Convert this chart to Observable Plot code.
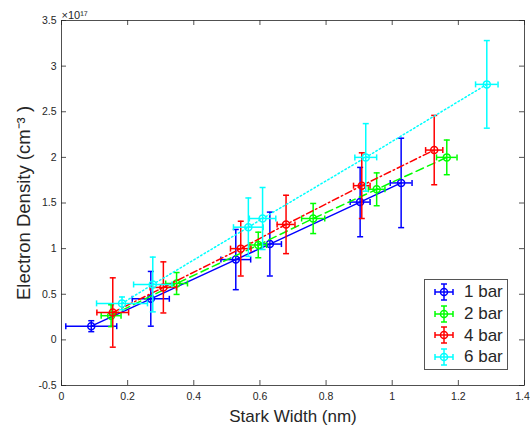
<!DOCTYPE html>
<html><head><meta charset="utf-8">
<script src="https://cdn.jsdelivr.net/npm/d3@7"></script>
<script src="https://cdn.jsdelivr.net/npm/@observablehq/plot@0.6"></script>
<style>
body{margin:0;background:#fff;}
#wrap{position:relative;width:530px;height:427px;font-family:"Liberation Sans",Arial,Helvetica,sans-serif;color:#262626;}
#legend{position:absolute;left:424px;top:279px;width:84px;height:91px;border:1px solid #555;background:#fff;box-sizing:border-box;padding-top:1px;}
.row{display:flex;align-items:center;height:21.7px;}
.row svg{margin-left:8px;}
.row span{margin-left:9px;font-size:17px;line-height:1;}
</style></head><body><div id="wrap"></div><script>
// ---- data ----
const seriesNames = ["1 bar", "2 bar", "4 bar", "6 bar"];
const seriesColors = ["#0000ff", "#00ff00", "#ff0000", "#00ffff"];
const seriesDash = [null, "8,4.5", "7,3,1.5,3", "1.5,2.5"];

const starkWidth1 = [0.09, 0.27, 0.527, 0.63, 0.903, 1.027];
const density1    = [0.15, 0.45, 0.88, 1.05, 1.51, 1.72];
const widthErr1   = [0.077, 0.056, 0.045, 0.035, 0.03, 0.033];
const densityErr1 = [0.06, 0.3, 0.33, 0.35, 0.38, 0.49];

const starkWidth2 = [0.15, 0.348, 0.595, 0.761, 0.953, 1.165];
const density2    = [0.265, 0.618, 1.04, 1.33, 1.65, 2.0];
const widthErr2   = [0.03, 0.033, 0.025, 0.035, 0.025, 0.031];
const densityErr2 = [0.12, 0.12, 0.14, 0.165, 0.18, 0.19];

const starkWidth3 = [0.155, 0.308, 0.542, 0.679, 0.908, 1.127];
const density3    = [0.30, 0.575, 1.0, 1.265, 1.69, 2.08];
const widthErr3   = [0.048, 0.04, 0.031, 0.027, 0.025, 0.026];
const densityErr3 = [0.38, 0.28, 0.3, 0.32, 0.36, 0.38];

const starkWidth4 = [0.183, 0.276, 0.565, 0.608, 0.92, 1.286];
const density4    = [0.40, 0.607, 1.235, 1.33, 2.0, 2.8];
const widthErr4   = [0.077, 0.058, 0.045, 0.04, 0.033, 0.034];
const densityErr4 = [0.07, 0.3, 0.32, 0.34, 0.37, 0.48];

const xTicks = [0, 0.2, 0.4, 0.6, 0.8, 1, 1.2, 1.4];
const yTicks = [-0.5, 0, 0.5, 1, 1.5, 2, 2.5, 3, 3.5];
const xLabel = "Stark Width (nm)";
const yLabel = "Electron Density (cm⁻³ )";
const yExponent = "×10¹⁷";

// ---- build table ----
const xs = [starkWidth1, starkWidth2, starkWidth3, starkWidth4];
const ys = [density1, density2, density3, density4];
const xes = [widthErr1, widthErr2, widthErr3, widthErr4];
const yes = [densityErr1, densityErr2, densityErr3, densityErr4];

const W = 530, H = 427, mL = 61, mR = 6, mT = 20, mB = 42;
const pw = W - mL - mR, ph = H - mT - mB;
const ink = "#262626";

const hCap = {draw(ctx, size) { const r = Math.sqrt(size / Math.PI); ctx.moveTo(-r, 0); ctx.lineTo(r, 0); }};
const vCap = {draw(ctx, size) { const r = Math.sqrt(size / Math.PI); ctx.moveTo(0, -r); ctx.lineTo(0, r); }};

const marks = [];
seriesNames.forEach((name, i) => {
  const rows = xs[i].map((x, j) => ({x, y: ys[i][j], xe: xes[i][j], ye: yes[i][j]}));
  const c = seriesColors[i];
  const sw = 1.5;
  marks.push(
    Plot.ruleX(rows, {x: "x", y1: d => d.y - d.ye, y2: d => d.y + d.ye, stroke: c, strokeWidth: sw}),
    Plot.ruleY(rows, {y: "y", x1: d => d.x - d.xe, x2: d => d.x + d.xe, stroke: c, strokeWidth: sw}),
    Plot.dot(rows, {x: "x", y: d => d.y + d.ye, symbol: hCap, r: 3, stroke: c, fill: "none", strokeWidth: sw}),
    Plot.dot(rows, {x: "x", y: d => d.y - d.ye, symbol: hCap, r: 3, stroke: c, fill: "none", strokeWidth: sw}),
    Plot.dot(rows, {x: d => d.x + d.xe, y: "y", symbol: vCap, r: 3, stroke: c, fill: "none", strokeWidth: sw}),
    Plot.dot(rows, {x: d => d.x - d.xe, y: "y", symbol: vCap, r: 3, stroke: c, fill: "none", strokeWidth: sw}),
    Plot.dot(rows, {x: "x", y: "y", r: 3.5, stroke: c, fill: "none", strokeWidth: sw}),
    Plot.line(rows, {x: "x", y: "y", stroke: c, strokeWidth: sw, strokeDasharray: seriesDash[i]})
  );
});

const lastX = xTicks[xTicks.length - 1];
const chart = Plot.plot({
  width: W, height: H,
  marginLeft: mL, marginRight: mR, marginTop: mT, marginBottom: mB,
  style: {fontFamily: "Liberation Sans, Arial, Helvetica, sans-serif", background: "#fff", color: ink, overflow: "visible"},
  x: {domain: [0, 1.4], label: null},
  y: {domain: [-0.5, 3.5], label: null},
  marks: [
    Plot.frame({stroke: ink, strokeWidth: 0.8}),
    Plot.tickX(xTicks, {x: d => d, insetTop: ph - 5, stroke: ink, strokeWidth: 0.8}),
    Plot.tickX(xTicks, {x: d => d, insetBottom: ph - 5, stroke: ink, strokeWidth: 0.8}),
    Plot.tickY(yTicks, {y: d => d, insetRight: pw - 5, stroke: ink, strokeWidth: 0.8}),
    Plot.tickY(yTicks, {y: d => d, insetLeft: pw - 5, stroke: ink, strokeWidth: 0.8}),
    Plot.axisX(xTicks.slice(0, -1), {tickSize: 0, tickPadding: 7, fontSize: 10.5, fill: ink, label: null, tickFormat: d => String(d)}),
    Plot.axisX([lastX], {tickSize: 0, tickPadding: 7, fontSize: 10.5, fill: ink, label: null, dx: -2, tickFormat: d => String(d)}),
    Plot.axisY(yTicks, {tickSize: 0, tickPadding: 5, fontSize: 10.5, fill: ink, label: null, tickFormat: d => String(d)}),
    Plot.text([xLabel], {frameAnchor: "bottom", dy: 31, lineAnchor: "middle", textAnchor: "middle", text: d => d, fontSize: 17, fill: ink}),
    Plot.text([yLabel], {frameAnchor: "left", dx: -37, rotate: -90, lineAnchor: "middle", textAnchor: "middle", text: d => d, fontSize: 18.5, fill: ink}),
    Plot.text([yExponent], {frameAnchor: "top-left", dy: -9, dx: 0, textAnchor: "start", text: d => d, fontSize: 11, fill: ink}),
    ...marks
  ]
});

const wrap = document.getElementById("wrap");
wrap.appendChild(chart);

// legend
const legend = document.createElement("div");
legend.id = "legend";
seriesNames.forEach((name, i) => {
  const c = seriesColors[i];
  const row = document.createElement("div");
  row.className = "row";
  row.innerHTML = `<svg width="22" height="20" viewBox="-11 -10 22 20" style="overflow:visible">
    <g stroke="${c}" stroke-width="1.5" fill="none">
      <line x1="-9" y1="0" x2="9" y2="0"/><line x1="0" y1="-8" x2="0" y2="8"/>
      <line x1="-9" y1="-3" x2="-9" y2="3"/><line x1="9" y1="-3" x2="9" y2="3"/>
      <line x1="-3" y1="-8" x2="3" y2="-8"/><line x1="-3" y1="8" x2="3" y2="8"/>
      <circle r="3.5"/>
    </g></svg><span>${name}</span>`;
  legend.appendChild(row);
});
wrap.appendChild(legend);
</script></body></html>
